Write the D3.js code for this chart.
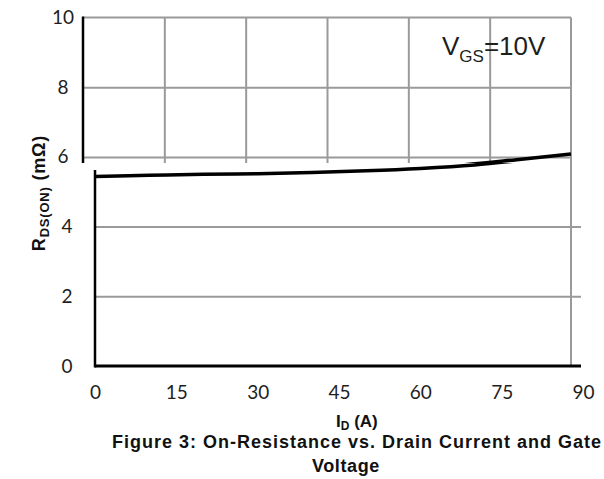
<!DOCTYPE html>
<html>
<head>
<meta charset="utf-8">
<script src="https://cdn.jsdelivr.net/npm/d3@7"></script>
<style>
  body { margin: 0; background: #fff; }
  svg { display: block; }
  .tick text { font-family: Lato, "Open Sans", sans-serif; font-size: 19px; fill: #1e1e1e; }
  .grid line { stroke: #9a9a9a; stroke-width: 2; }
  .grid .domain { display: none; }
</style>
</head>
<body>
<svg id="chart" width="604" height="479"></svg>
<script>
// drain current (A) vs on-resistance (mOhm), VGS = 10V
const currentA = [0, 10, 20, 30, 40, 50, 60, 70, 80, 90];
const rdsOn = [5.44, 5.47, 5.50, 5.52, 5.55, 5.60, 5.67, 5.77, 5.92, 6.08];
const xTicks = [0, 15, 30, 45, 60, 75, 90];
const yTicksUpper = [6, 8, 10];
const yTicksLower = [0, 2, 4];

const svg = d3.select("#chart");
const x = d3.scaleLinear().domain([0, 90]).range([95, 583]);
const y = d3.scaleLinear().domain([0, 10]).range([366, 17.5]);

// the source picture is torn: the upper strip is shifted left
const split = 163;
const shift = -12;

const defs = svg.append("defs");
defs.append("clipPath").attr("id", "clipTop")
    .append("rect").attr("x", 0).attr("y", 0).attr("width", 604).attr("height", split);
defs.append("clipPath").attr("id", "clipBottom")
    .append("rect").attr("x", 0).attr("y", split).attr("width", 604).attr("height", 479 - split);

const line = d3.line()
    .x((d, i) => x(currentA[i]))
    .y(d => y(d))
    .curve(d3.curveMonotoneX);

// ---- upper strip ----
const upper = svg.append("g").attr("clip-path", "url(#clipTop)")
    .append("g").attr("transform", `translate(${shift},0)`);

upper.append("g")
    .attr("class", "grid")
    .attr("transform", `translate(0,${y(0)})`)
    .call(d3.axisBottom(x).tickValues(xTicks.slice(1, -1)).tickSize(-(y(0) - y(10))).tickFormat(""));

upper.append("g")
    .attr("class", "grid")
    .attr("transform", `translate(${x(0)},0)`)
    .call(d3.axisLeft(y).tickValues([6, 8]).tickSize(-(x(90) - x(0))).tickFormat(""));

upper.append("line")
    .attr("x1", x(0)).attr("x2", x(90)).attr("y1", y(10)).attr("y2", y(10))
    .attr("stroke", "#9a9a9a").attr("stroke-width", 2);
upper.append("line")
    .attr("x1", x(90)).attr("x2", x(90)).attr("y1", y(10)).attr("y2", y(0))
    .attr("stroke", "#9a9a9a").attr("stroke-width", 2);
upper.append("line")
    .attr("x1", x(0)).attr("x2", x(0)).attr("y1", y(10) - 1).attr("y2", y(0))
    .attr("stroke", "#000").attr("stroke-width", 2.5);

const yUpper = upper.append("g")
    .attr("transform", `translate(${x(0)},0)`)
    .call(d3.axisLeft(y).tickValues(yTicksUpper).tickSize(0));
yUpper.select(".domain").remove();
yUpper.selectAll("text").attr("text-anchor", "middle").attr("x", -20);

upper.append("path")
    .datum(rdsOn)
    .attr("d", line)
    .attr("fill", "none")
    .attr("stroke", "#000")
    .attr("stroke-width", 3.5);

// ---- lower strip ----
const lower = svg.append("g").attr("clip-path", "url(#clipBottom)");

lower.append("g")
    .attr("class", "grid")
    .attr("transform", `translate(${x(0)},0)`)
    .call(d3.axisLeft(y).tickValues([2, 4]).tickSize(-(x(90) - x(0) - 2)).tickFormat(""));

lower.append("line")
    .attr("x1", x(90) + shift).attr("x2", x(90) + shift).attr("y1", y(10)).attr("y2", y(0))
    .attr("stroke", "#9a9a9a").attr("stroke-width", 2);

lower.append("path")
    .datum(rdsOn)
    .attr("d", line)
    .attr("fill", "none")
    .attr("stroke", "#000")
    .attr("stroke-width", 3.5);

lower.append("line")
    .attr("x1", x(0)).attr("x2", x(0)).attr("y1", 170).attr("y2", y(0) + 1.5)
    .attr("stroke", "#000").attr("stroke-width", 2.5);
lower.append("line")
    .attr("x1", x(0)).attr("x2", x(90) - 2).attr("y1", y(0)).attr("y2", y(0))
    .attr("stroke", "#000").attr("stroke-width", 3);

const yLower = lower.append("g")
    .attr("transform", `translate(${x(0)},0)`)
    .call(d3.axisLeft(y).tickValues(yTicksLower).tickSize(0));
yLower.select(".domain").remove();
yLower.selectAll("text").attr("text-anchor", "middle").attr("x", -28);

const xAxis = lower.append("g")
    .attr("transform", `translate(0,${y(0)})`)
    .call(d3.axisBottom(x).tickValues(xTicks).tickSize(0).tickPadding(20));
xAxis.select(".domain").remove();

// ---- texts ----
const vgs = svg.append("text")
    .attr("x", 442).attr("y", 55)
    .attr("font-family", "'Liberation Sans', Arial, sans-serif")
    .attr("font-size", 26)
    .attr("fill", "#1e1e1e");
vgs.append("tspan").text("V");
vgs.append("tspan").attr("font-size", 17).attr("dy", 7).text("GS");
vgs.append("tspan").attr("dy", -7).text("=10V");

const yTitle = svg.append("text")
    .attr("transform", "translate(45,193) rotate(-90)")
    .attr("text-anchor", "middle")
    .attr("font-family", "'Liberation Sans', Arial, sans-serif")
    .attr("font-weight", "bold")
    .attr("font-size", 18)
    .attr("letter-spacing", 0.8)
    .attr("fill", "#111");
yTitle.append("tspan").text("R");
yTitle.append("tspan").attr("font-size", 13).attr("dy", 4).text("DS(ON)");
yTitle.append("tspan").attr("dy", -4).text(" (mΩ)");

const xTitle = svg.append("text")
    .attr("x", 336).attr("y", 427)
    .attr("font-family", "'Liberation Sans', Arial, sans-serif")
    .attr("font-weight", "bold")
    .attr("font-size", 17)
    .attr("fill", "#111");
xTitle.append("tspan").text("I");
xTitle.append("tspan").attr("font-size", 12).attr("dy", 3).text("D");
xTitle.append("tspan").attr("dy", -3).text(" (A)");

svg.append("text")
    .attr("x", 112).attr("y", 448)
    .attr("font-family", "'Liberation Sans', Arial, sans-serif")
    .attr("font-weight", "bold")
    .attr("font-size", 18)
    .attr("letter-spacing", 1.0)
    .attr("fill", "#111")
    .text("Figure 3: On-Resistance vs. Drain Current and Gate");

svg.append("text")
    .attr("x", 312).attr("y", 472)
    .attr("font-family", "'Liberation Sans', Arial, sans-serif")
    .attr("font-weight", "bold")
    .attr("font-size", 18)
    .attr("letter-spacing", 0.6)
    .attr("fill", "#111")
    .text("Voltage");
</script>
</body>
</html>
